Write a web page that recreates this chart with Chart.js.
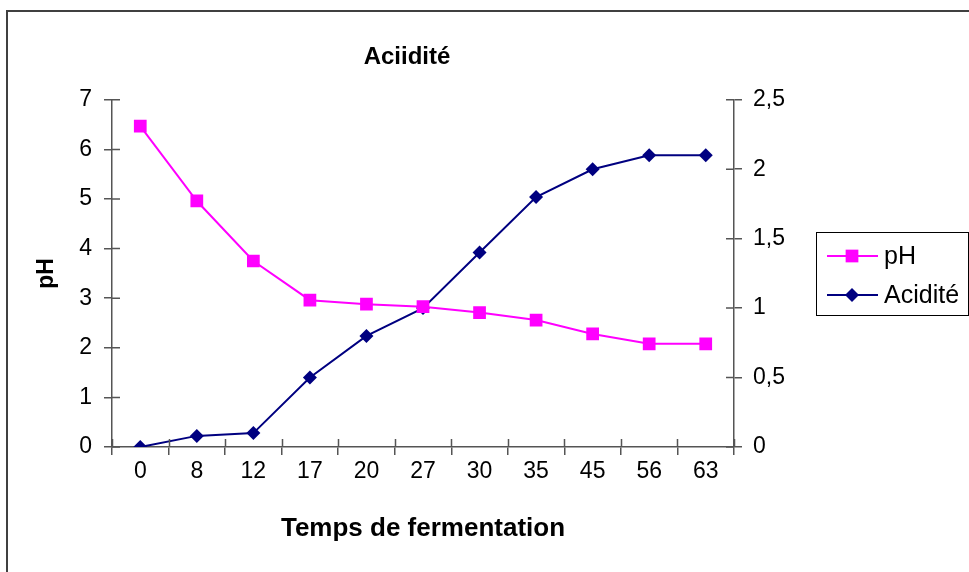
<!DOCTYPE html>
<html>
<head>
<meta charset="utf-8">
<script src="https://cdn.jsdelivr.net/npm/chart.js@4/dist/chart.umd.min.js"></script>
<style>
  html, body { margin: 0; padding: 0; overflow: hidden; background: #fff; }
  #frame { position: absolute; left: 6px; top: 10px; width: 962px; height: 570px;
           border-left: 2px solid #404040; border-top: 2px solid #404040; pointer-events: none; }
  #myChart { position: absolute; left: 0; top: 0; }
</style>
</head>
<body>
<canvas id="myChart" width="969" height="572"></canvas>
<div id="frame"></div>
<script>
// valeurs
const temps = ['0', '8', '12', '17', '20', '27', '30', '35', '45', '56', '63'];
const ph = [6.47, 4.96, 3.75, 2.96, 2.88, 2.83, 2.71, 2.56, 2.28, 2.08, 2.08];
const acidite = [0, 0.08, 0.1, 0.5, 0.8, 1.0, 1.4, 1.8, 2.0, 2.1, 2.1];

const axisColor = '#555555';
const fontFam = '"Liberation Sans", Arial, sans-serif';

// petits traits intérieurs (style Excel : graduations croisées)
const crossTicks = {
  id: 'crossTicks',
  afterDraw(chart) {
    const ctx = chart.ctx;
    const a = chart.chartArea;
    const y = chart.scales.y, y1 = chart.scales.y1;
    ctx.save();
    ctx.strokeStyle = axisColor;
    ctx.lineWidth = 1.5;
    ctx.beginPath();
    const n = temps.length;
    for (let i = 0; i <= n; i++) {
      const px = Math.round(a.left + i * (a.right - a.left) / n) + 0.5;
      ctx.moveTo(px, a.bottom);
      ctx.lineTo(px, a.bottom - 8);
    }
    y.ticks.forEach(t => {
      const py = y.getPixelForValue(t.value);
      ctx.moveTo(a.left, py);
      ctx.lineTo(a.left + 8, py);
    });
    y1.ticks.forEach(t => {
      const py = y1.getPixelForValue(t.value);
      ctx.moveTo(a.right, py);
      ctx.lineTo(a.right - 8, py);
    });
    ctx.stroke();
    ctx.restore();
  }
};

// légende encadrée à droite
const boxLegend = {
  id: 'boxLegend',
  afterDraw(chart) {
    const ctx = chart.ctx;
    const bx = 816, by = 232, bw = 152, bh = 83;
    ctx.save();
    ctx.strokeStyle = '#000';
    ctx.lineWidth = 1;
    ctx.strokeRect(bx + 0.5, by + 0.5, bw, bh);
    ctx.font = '25px ' + fontFam;
    ctx.textBaseline = 'middle';
    chart.data.datasets.forEach((ds, i) => {
      const cy = by + 24 + i * 39;
      ctx.strokeStyle = ds.borderColor;
      ctx.lineWidth = ds.borderWidth;
      ctx.beginPath();
      ctx.moveTo(bx + 11, cy);
      ctx.lineTo(bx + 62, cy);
      ctx.stroke();
      ctx.fillStyle = ds.pointBackgroundColor;
      Chart.helpers.drawPoint(ctx, {pointStyle: ds.pointStyle, rotation: 0, borderWidth: 0,
        radius: ds.pointRadius}, bx + 36, cy);
      ctx.fillStyle = '#000';
      ctx.fillText(ds.label, bx + 68, cy + 1);
    });
    ctx.restore();
  }
};

const data = {
  labels: temps,
  datasets: [{
    label: 'pH',
    data: ph,
    yAxisID: 'y',
    borderColor: '#FF00FF',
    backgroundColor: '#FF00FF',
    pointBackgroundColor: '#FF00FF',
    pointBorderColor: '#FF00FF',
    pointStyle: 'rect',
    pointRadius: 9,
    pointBorderWidth: 0,
    borderWidth: 2
  }, {
    label: 'Acidité',
    data: acidite,
    yAxisID: 'y1',
    borderColor: '#000080',
    backgroundColor: '#000080',
    pointBackgroundColor: '#000080',
    pointBorderColor: '#000080',
    pointStyle: 'rectRot',
    pointRadius: 7,
    pointBorderWidth: 0,
    borderWidth: 2
  }]
};

const config = {
  type: 'line',
  data: data,
  options: {
    responsive: false,
    animation: false,
    devicePixelRatio: 1,
    layout: { padding: { left: 0, top: 0, right: 155, bottom: 0 } },
    plugins: {
      legend: { display: false },
      tooltip: { enabled: false },
      title: {
        display: true,
        text: 'Aciidité',
        color: '#000',
        font: { family: fontFam, size: 24, weight: 'bold', lineHeight: 1.2 },
        padding: { top: 43, bottom: 28 }
      }
    },
    scales: {
      x: {
        offset: true,
        afterFit: s => { s.height = 125; },
        grid: { display: true, offset: true, drawOnChartArea: false, drawTicks: true,
                tickLength: 8, color: axisColor, lineWidth: 1.5 },
        border: { display: true, color: axisColor, width: 1.5 },
        ticks: { color: '#000', font: { family: fontFam, size: 23 }, padding: 3,
                 maxRotation: 0, autoSkip: false },
        title: { display: true, text: 'Temps de fermentation', color: '#000',
                 font: { family: fontFam, size: 26, weight: 'bold', lineHeight: 1.2 },
                 padding: { top: 0, bottom: 28 } }
      },
      y: {
        position: 'left',
        min: 0, max: 7,
        afterFit: s => { s.width = 112; },
        grid: { drawOnChartArea: false, drawTicks: true, tickLength: 8, color: axisColor, lineWidth: 1.5 },
        border: { display: true, color: axisColor, width: 1.5 },
        ticks: { stepSize: 1, color: '#000', font: { family: fontFam, size: 23 }, padding: 12 },
        title: { display: true, text: 'pH', color: '#000',
                 font: { family: fontFam, size: 23, weight: 'bold', lineHeight: 1.2 },
                 padding: { top: 33, bottom: 0 } }
      },
      y1: {
        position: 'right',
        min: 0, max: 2.5,
        afterFit: s => { s.width = 80; },
        grid: { drawOnChartArea: false, drawTicks: true, tickLength: 8, color: axisColor, lineWidth: 1.5 },
        border: { display: true, color: axisColor, width: 1.5 },
        ticks: { stepSize: 0.5, color: '#000', font: { family: fontFam, size: 23 }, padding: 11,
                 callback: v => String(v).replace('.', ',') }
      }
    }
  },
  plugins: [crossTicks, boxLegend]
};

var myChart = new Chart(document.getElementById('myChart'), config);
</script>
</body>
</html>
